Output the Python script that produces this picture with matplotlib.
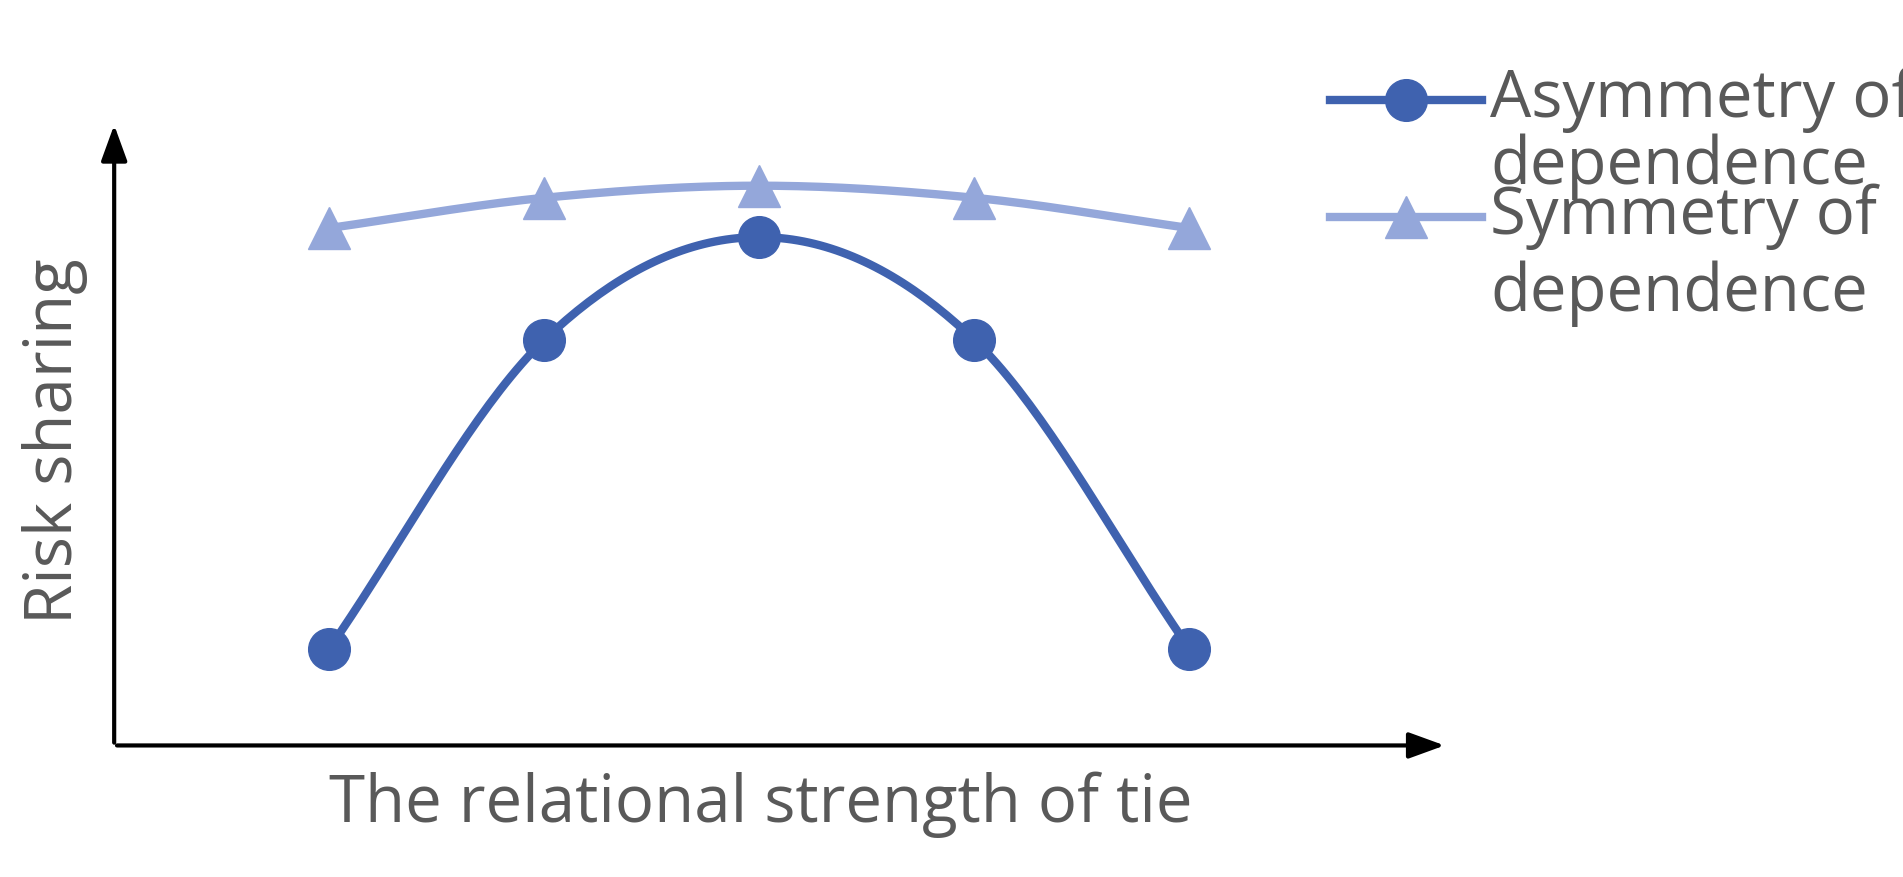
import numpy as np
import matplotlib.pyplot as plt
from matplotlib.lines import Line2D

# data (arbitrary units)
x_pos = [1, 2, 3, 4, 5]
asym = [1.6, 6.7, 8.4, 6.7, 1.6]
sym = [8.55, 9.05, 9.25, 9.05, 8.55]

dunkel = '#3F62AF'
hell = '#94A7DA'
grau = '#595959'
schrift = 'Open Sans'


# Catmull-Rom Glättung wie bei Excel-Linien
def glatt(xs, ys, n=40):
    p = np.column_stack([xs, ys]).astype(float)
    p = np.vstack([2 * p[0] - p[1], p, 2 * p[-1] - p[-2]])
    out = []
    t = np.linspace(0, 1, n)[:, None]
    for i in range(1, len(p) - 2):
        p0, p1, p2, p3 = p[i - 1], p[i], p[i + 1], p[i + 2]
        seg = 0.5 * ((2 * p1) + (-p0 + p2) * t + (2 * p0 - 5 * p1 + 4 * p2 - p3) * t**2
                     + (-p0 + 3 * p1 - 3 * p2 + p3) * t**3)
        out.append(seg)
    out = np.vstack(out)
    return out[:, 0], out[:, 1]


fig = plt.figure(figsize=(19.03, 8.77), dpi=100)
ax = fig.add_axes([0.06, 0.15, 0.678, 0.69])
ax.set_xlim(0, 6)
ax.set_ylim(0, 10)
ax.axis('off')

gx, gy = glatt(x_pos, asym)
ax.plot(gx, gy, color=dunkel, lw=6, solid_capstyle='round')
ax.plot(x_pos, asym, 'o', color=dunkel, ms=30)
gx, gy = glatt(x_pos, sym)
ax.plot(gx, gy, color=hell, lw=6)
ax.plot(x_pos, sym, '^', color=hell, ms=30)

# Achsen mit Pfeilen
pfeil = dict(arrowstyle='-|>,head_length=2.2,head_width=0.8', color='black', lw=3)
ax.annotate('', xy=(0, 10.3), xytext=(0, 0), annotation_clip=False, arrowprops=pfeil)
ax.annotate('', xy=(6.2, 0), xytext=(0, 0), annotation_clip=False, arrowprops=pfeil)

fig.text(0.40, 0.045, 'The relational strength of tie', ha='center', va='bottom',
         fontsize=47, color=grau, family=schrift)
fig.text(0.029, 0.497, 'Risk sharing', ha='center', va='center', rotation=90,
         fontsize=47, color=grau, family=schrift)

# Legende von Hand
for y0, y1, farbe, mk, t1 in [(0.886, 0.81, dunkel, 'o', 'Asymmetry of'),
                              (0.753, 0.665, hell, '^', 'Symmetry of')]:
    fig.add_artist(Line2D([0.699, 0.779], [y0, y0], color=farbe, lw=6))
    fig.add_artist(Line2D([0.739], [y0], marker=mk, color=farbe, ms=30))
    fig.text(0.783, y0, t1, va='center', fontsize=47, color=grau, family=schrift)
    fig.text(0.783, y1, 'dependence', va='center', fontsize=47, color=grau, family=schrift)

fig.savefig('out.png')
